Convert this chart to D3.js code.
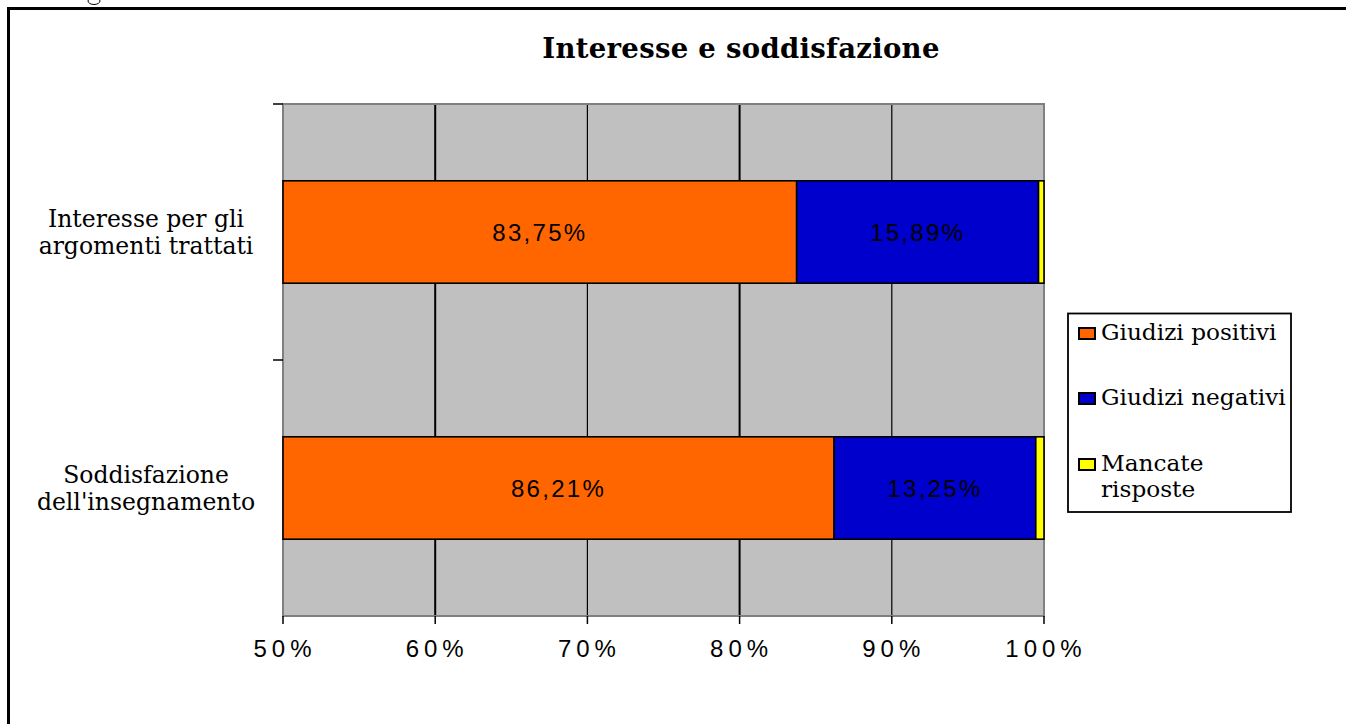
<!DOCTYPE html>
<html>
<head>
<meta charset="utf-8">
<script src="https://cdn.jsdelivr.net/npm/d3@7"></script>
<style>
  html, body { margin: 0; padding: 0; background: #fff; overflow: hidden; }
  svg { display: block; }
</style>
</head>
<body>
<svg id="chart" width="1346" height="724"></svg>
<script>
// ---- data ----
const categories = ["Interesse per gli argomenti trattati", "Soddisfazione dell'insegnamento"];
const categoryLines = [["Interesse per gli", "argomenti trattati"], ["Soddisfazione", "dell'insegnamento"]];
const seriesNames = ["Giudizi positivi", "Giudizi negativi", "Mancate risposte"];
const positivi = [83.75, 86.21];
const negativi = [15.89, 13.25];
const mancate  = [0.36, 0.54];
const tickValues = [50, 60, 70, 80, 90, 100];
const tickLabels = ["50%", "60%", "70%", "80%", "90%", "100%"];
const colors = ["#FF6600", "#0000CC", "#FFFF00"];
const title = "Interesse e soddisfazione";

const svg = d3.select("#chart");
const serif = "'DejaVu Serif', 'Liberation Serif', serif";

// outer frame (cut off on right/bottom)
svg.append("rect").attr("x", 8.5).attr("y", 8.5).attr("width", 1400).attr("height", 800)
  .attr("fill", "none").attr("stroke", "#000").attr("stroke-width", 3);
// small leftover glyph loop above the frame
svg.append("ellipse").attr("cx", 94).attr("cy", 1).attr("rx", 6).attr("ry", 3.5)
  .attr("fill", "none").attr("stroke", "#000").attr("stroke-width", 1);

const L = 283, R = 1044, T = 104, B = 616;
const x = d3.scaleLinear().domain([50, 100]).range([L, R]);
const y = d3.scaleBand().domain(categories).range([T, B]).padding(0);
const barH = y.bandwidth() * 0.4;

// title
svg.append("text").attr("x", 741).attr("y", 58).attr("text-anchor", "middle")
  .attr("font-family", serif).attr("font-weight", "bold")
  .attr("font-size", 27.5).attr("letter-spacing", 0.3).text(title);

// plot background
svg.append("rect").attr("x", L).attr("y", T).attr("width", R - L).attr("height", B - T)
  .attr("fill", "#C0C0C0");

// gridlines
svg.append("g").selectAll("line").data(tickValues.slice(1, -1)).join("line")
  .attr("x1", d => x(d)).attr("x2", d => x(d)).attr("y1", T).attr("y2", B)
  .attr("stroke", "#000").attr("stroke-width", (d, i) => i % 2 === 0 ? 2 : 1.2);

// plot border
svg.append("rect").attr("x", L).attr("y", T).attr("width", R - L).attr("height", B - T)
  .attr("fill", "none").attr("stroke", "#808080").attr("stroke-width", 2);

// stacked data
const rows = categories.map((c, i) => ({ cat: c, p: positivi[i], n: negativi[i], m: mancate[i] }));
const stack = d3.stack().keys(["p", "n", "m"]);
const stacked = stack(rows);

svg.append("clipPath").attr("id", "clip").append("rect")
  .attr("x", L - 2).attr("y", T).attr("width", R - L + 4).attr("height", B - T);

const bars = svg.append("g").attr("clip-path", "url(#clip)");
stacked.forEach((layer, si) => {
  bars.append("g").selectAll("rect").data(layer).join("rect")
    .attr("x", d => x(Math.max(d[0], 50)))
    .attr("width", d => x(d[1]) - x(Math.max(d[0], 50)))
    .attr("y", d => y(d.data.cat) + (y.bandwidth() - barH) / 2)
    .attr("height", barH)
    .attr("fill", colors[si]).attr("stroke", "#000").attr("stroke-width", 1.6);
});

// data labels (first two series)
stacked.slice(0, 2).forEach((layer, si) => {
  svg.append("g").selectAll("text").data(layer).join("text")
    .attr("x", d => (x(Math.max(d[0], 50)) + x(d[1])) / 2)
    .attr("y", d => y(d.data.cat) + y.bandwidth() / 2 + 9)
    .attr("text-anchor", "middle")
    .attr("font-family", "Liberation Sans").attr("font-size", 24).attr("letter-spacing", 2.3)
    .attr("fill", "#000")
    .text(d => (d[1] - d[0]).toFixed(2).replace(".", ",") + "%");
});

// x axis ticks & labels
const xt = svg.append("g");
xt.selectAll("line").data(tickValues).join("line")
  .attr("x1", d => x(d)).attr("x2", d => x(d)).attr("y1", B).attr("y2", B + 8)
  .attr("stroke", "#000").attr("stroke-width", 1.5);
xt.selectAll("text").data(tickValues).join("text")
  .attr("x", d => x(d) + 2).attr("y", 657).attr("text-anchor", "middle")
  .attr("font-family", "Liberation Sans").attr("font-size", 24).attr("letter-spacing", 5)
  .text((d, i) => tickLabels[i]);

// y axis ticks
svg.append("g").selectAll("line").data([T, T + y.step()]).join("line")
  .attr("x1", L - 10).attr("x2", L).attr("y1", d => d).attr("y2", d => d)
  .attr("stroke", "#000").attr("stroke-width", 1.5);

// y labels
const yl = svg.append("g");
categories.forEach((c, i) => {
  const cy = y(c) + y.bandwidth() / 2;
  const t = yl.append("text").attr("text-anchor", "middle")
    .attr("font-family", serif).attr("font-size", 23.5);
  categoryLines[i].forEach((ln, j) => {
    t.append("tspan").attr("x", 146).attr("y", cy - 5 + j * 27).text(ln);
  });
});

// legend
const lg = svg.append("g");
lg.append("rect").attr("x", 1068).attr("y", 313.5).attr("width", 223).attr("height", 198.5)
  .attr("fill", "#fff").attr("stroke", "#000").attr("stroke-width", 1.8);
const legY = [340, 405, 471];
const legLines = [["Giudizi positivi"], ["Giudizi negativi"], ["Mancate", "risposte"]];
seriesNames.forEach((s, i) => {
  lg.append("rect").attr("x", 1079).attr("y", legY[i] - 12).attr("width", 16).attr("height", 11)
    .attr("fill", colors[i]).attr("stroke", "#000").attr("stroke-width", 2);
  const t = lg.append("text").attr("font-family", serif).attr("font-size", 23.2);
  legLines[i].forEach((ln, j) => {
    t.append("tspan").attr("x", 1101).attr("y", legY[i] + j * 26).text(ln);
  });
});
</script>
</body>
</html>
